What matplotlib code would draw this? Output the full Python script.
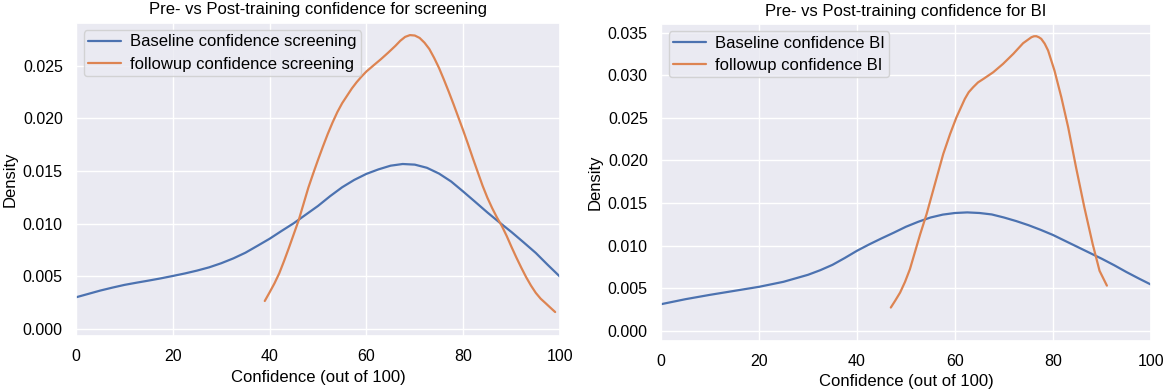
import matplotlib
matplotlib.use("Agg")
import matplotlib.pyplot as plt
import seaborn as sns

sns.set_theme(style="darkgrid")
plt.rcParams['font.family'] = ['Liberation Sans', 'DejaVu Sans']

# ---- data (KDE curves) ----
scr_base_x = [0, 2.5, 5, 7.5, 10, 12.5, 15, 17.5, 20, 22.5, 25, 27.5, 30, 32.5, 35, 37.5, 40, 42.5, 45,
              47.5, 50, 52.5, 55, 57.5, 60, 62.5, 65, 67.5, 70, 72.5, 75, 77.5, 80, 82.5, 85, 87.5, 90,
              92.5, 95, 97.5, 100]
scr_base_y = [0.00298, 0.00330, 0.00362, 0.00390, 0.00416, 0.00437, 0.00457, 0.00478, 0.00501, 0.00525,
              0.00552, 0.00583, 0.00622, 0.00668, 0.00722, 0.00788, 0.00855, 0.00930, 0.01003,
              0.01085, 0.01167, 0.01260, 0.01345, 0.01415, 0.01472, 0.01515, 0.01550, 0.01566, 0.01560,
              0.01530, 0.01475, 0.01400, 0.01304, 0.01205, 0.01105, 0.01010, 0.00918,
              0.00820, 0.00720, 0.00605, 0.00494]

scr_follow_x = [39, 40, 41, 42, 43, 44, 45, 46, 47, 48, 49, 50, 51, 52, 53, 54, 55, 56, 57, 58, 59, 60,
                61.5, 63, 64.5, 66, 67, 68, 69, 70, 71, 72, 73, 74, 75, 76, 77, 78, 79, 80, 81, 82, 83,
                84, 85, 86, 87, 88, 89, 90, 91, 92, 93, 94, 95, 96, 97, 98, 99]
scr_follow_y = [0.00263, 0.00345, 0.00430, 0.00527, 0.00645, 0.00770, 0.00900, 0.01030, 0.01185, 0.01340,
                0.01475, 0.01605, 0.01730, 0.01850, 0.01960, 0.02060, 0.02145, 0.02215, 0.02285, 0.02345,
                0.02398, 0.02446, 0.02505, 0.02563, 0.02625, 0.02690, 0.02738, 0.02775, 0.02792, 0.02788,
                0.02765, 0.02720, 0.02660, 0.02575, 0.02480, 0.02370, 0.02255, 0.02135, 0.02010, 0.01885,
                0.01755, 0.01620, 0.01490, 0.01360, 0.01245, 0.01145, 0.01055, 0.00975, 0.00880, 0.00775,
                0.00675, 0.00580, 0.00490, 0.00410, 0.00340, 0.00285, 0.00243, 0.00200, 0.00158]

bi_base_x = [0, 5, 10, 15, 20, 25, 30, 32.5, 35, 37.5, 40, 42.5, 45, 47.5, 50, 52.5, 55, 57.5, 60, 62.5,
             65, 67.5, 70, 72.5, 75, 77.5, 80, 82.5, 85, 87.5, 90, 92.5, 95, 97.5, 100]
bi_base_y = [0.00313, 0.00372, 0.00423, 0.00470, 0.00517, 0.00576, 0.00658, 0.00712, 0.00775, 0.00855,
             0.00940, 0.01015, 0.01085, 0.01152, 0.01222, 0.01280, 0.01330, 0.01364, 0.01383, 0.01390,
             0.01383, 0.01366, 0.01330, 0.01288, 0.01240, 0.01185, 0.01125, 0.01055, 0.00985, 0.00915,
             0.00845, 0.00770, 0.00690, 0.00615, 0.00543]

bi_follow_x = [46.9, 47.8, 48.8, 49.8, 50.8, 51.8, 52.9, 54.2, 55.9, 57.6, 59, 60.3, 62, 62.8, 63.7,
               64.7, 65.8, 67.8, 69.8, 71.9, 73.9, 75.6, 76.1, 76.6, 77.1, 77.6, 78.3, 79, 80.3, 81.7,
               83.1, 84.7, 86.4, 88.1, 89.5, 91]
bi_follow_y = [0.00274, 0.00355, 0.00450, 0.00575, 0.00724, 0.00920, 0.01135, 0.01370, 0.01723, 0.02075,
               0.02310, 0.02506, 0.02721, 0.02800, 0.02858, 0.02915, 0.02956, 0.03034, 0.03132, 0.03250,
               0.03375, 0.03445, 0.03456, 0.03457, 0.03445, 0.03426, 0.03370, 0.03289, 0.03054, 0.02741,
               0.02388, 0.01919, 0.01449, 0.01018, 0.00705, 0.00531]

titles = ["Pre- vs Post-training confidence for screening", "Pre- vs Post-training confidence for BI"]
base_labels = ["Baseline confidence screening", "Baseline confidence BI"]
follow_labels = ["followup confidence screening", "followup confidence BI"]
xlabel = "Confidence (out of 100)"
ylabel = "Density"

blue = "#4c72b0"
orange = "#dd8452"

fig = plt.figure(figsize=(11.68, 3.92), dpi=100)
ax1 = fig.add_axes([76 / 1168, (392 - 336) / 392, 484 / 1168, (336 - 22.7) / 392])
ax2 = fig.add_axes([661 / 1168, (392 - 340.7) / 392, 490 / 1168, (340.7 - 24) / 392])

panels = [
    (ax1, scr_base_x, scr_base_y, scr_follow_x, scr_follow_y, (-0.0007, 0.0291), [0, 0.005, 0.01, 0.015, 0.02, 0.025]),
    (ax2, bi_base_x, bi_base_y, bi_follow_x, bi_follow_y, (-0.00115, 0.0360), [0, 0.005, 0.01, 0.015, 0.02, 0.025, 0.03, 0.035]),
]

for i, (ax, bx, by, fx, fy, ylim, yticks) in enumerate(panels):
    ax.plot(bx, by, color=blue, lw=1.6, label=base_labels[i])
    ax.plot(fx, fy, color=orange, lw=1.6, label=follow_labels[i])
    ax.set_xlim(0, 100)
    ax.set_ylim(*ylim)
    ax.set_yticks(yticks)
    ax.set_yticklabels([f"{t:.3f}" for t in yticks])
    ax.set_xticks([0, 20, 40, 60, 80, 100])
    ax.tick_params(labelsize=11.5, labelcolor="black")
    ax.set_title(titles[i], fontsize=12, color="black")
    ax.set_xlabel(xlabel, fontsize=12, color="black")
    ax.set_ylabel(ylabel, fontsize=12, color="black")
    leg = ax.legend(loc="upper left", fontsize=12, borderpad=0.25, labelspacing=0.45,
                    handletextpad=0.55, handlelength=2.0, borderaxespad=0.45)
    for t in leg.get_texts():
        t.set_color("black")

fig.savefig("out.png", dpi=100)
